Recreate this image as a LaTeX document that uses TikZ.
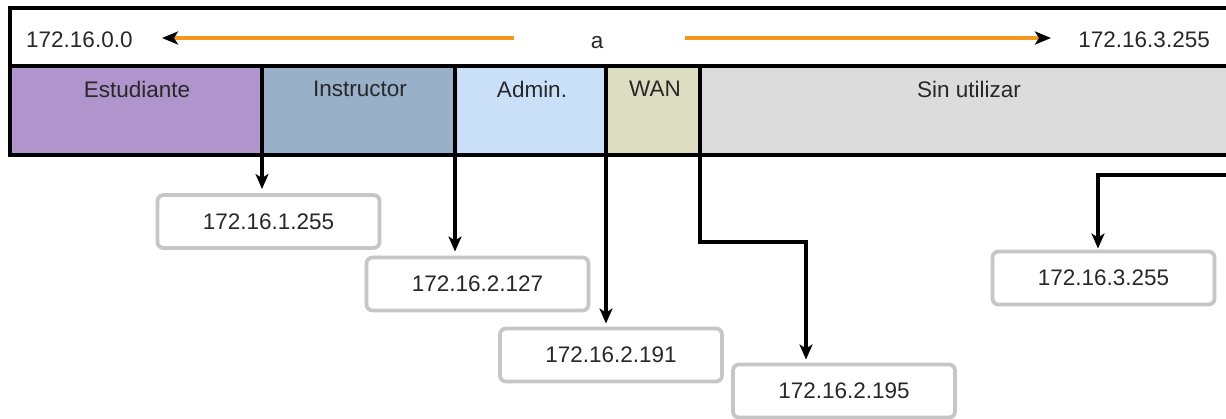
\documentclass[tikz,border=0pt]{standalone}
\usepackage{fontspec}
\setmainfont{Liberation Sans}
\usetikzlibrary{arrows.meta}
\definecolor{cest}{RGB}{176,148,204}
\definecolor{cins}{RGB}{152,176,200}
\definecolor{cadm}{RGB}{201,224,248}
\definecolor{cwan}{RGB}{221,221,193}
\definecolor{csin}{RGB}{220,220,220}
\definecolor{corange}{RGB}{242,152,32}
\definecolor{cbox}{RGB}{198,198,198}
\definecolor{txt}{RGB}{40,40,40}
\begin{document}
\begin{tikzpicture}[x=1pt,y=-1pt,
  every node/.style={font=\fontsize{22.5}{27}\selectfont, text=txt},
  band/.style={draw=black, line width=3.6pt, minimum height=89pt, anchor=north west, inner sep=0pt, outer sep=0pt},
  addrbox/.style={draw=cbox, line width=3.8pt, rounded corners=6pt, fill=white, minimum width=222pt, minimum height=53pt, inner sep=0pt, outer sep=0pt},
  conn/.style={draw=black, line width=3.3pt, -{Stealth[length=15pt, width=13pt, inset=4pt]}, shorten >=5pt},
  orangearrow/.style={draw=corange, line width=4.2pt, -{Stealth[color=black, length=16pt, width=13pt, inset=4pt]}}
]
\useasboundingbox (0,0) rectangle (1226,419);
\fill[white] (0,0) rectangle (1226,419);

% header row
\node[draw=black, line width=3.6pt, anchor=north west, minimum width=1240pt, minimum height=58pt, inner sep=0pt, outer sep=0pt] (hdr) at (10,8) {};
\node[anchor=west, inner sep=0pt] (lo) at (26,40) {172.16.0.0};
\node[anchor=east, inner sep=0pt] (hi) at (1210,40) {172.16.3.255};
\node[inner sep=0pt] (mid) at (597,43) {a};
\coordinate (ls) at (514,38);
\coordinate (lt) at (162,38);
\coordinate (rs) at (685,38);
\coordinate (rt) at (1051,38);
\draw[orangearrow] (ls) -- (lt);
\draw[orangearrow] (rs) -- (rt);

% bands
\node[band, fill=cest, minimum width=252pt] (est) at (10,66) {};
\node[band, fill=cins, minimum width=193pt] (ins) at (262,66) {};
\node[band, fill=cadm, minimum width=151pt] (adm) at (455,66) {};
\node[band, fill=cwan, minimum width=94pt] (wan) at (606,66) {};
\node[band, fill=csin, minimum width=550pt] (sin) at (700,66) {};
\node (lest) at (137,89) {Estudiante};
\node (lins) at (360,89) {Instructor};
\node (ladm) at (532,89) {Admin.};
\node (lwan) at (655,89) {WAN};
\node (lsin) at (969,89) {Sin utilizar};

% address boxes
\node[addrbox] (b1) at (268.5,221.5) {172.16.1.255};
\node[addrbox] (b2) at (477.5,284) {172.16.2.127};
\node[addrbox] (b3) at (611,355) {172.16.2.191};
\node[addrbox] (b4) at (844,391) {172.16.2.195};
\node[addrbox] (b5) at (1103.5,278) {172.16.3.255};

% connectors
\draw[conn, shorten >=6pt] (est.south east) -- (est.south east |- b1.north);
\draw[conn, shorten >=6pt] (ins.south east) -- (ins.south east |- b2.north);
\draw[conn] (adm.south east) -- (adm.south east |- b3.north);
\coordinate (k4) at (806,242);
\draw[conn] (wan.south east) |- (k4) -- (k4 |- b4.north);
\coordinate (k5) at (1230,175);
\coordinate (k5b) at (1098,175);
\draw[conn, shorten >=3pt] (k5) -- (k5b) -- (k5b |- b5.north);
\end{tikzpicture}
\end{document}
